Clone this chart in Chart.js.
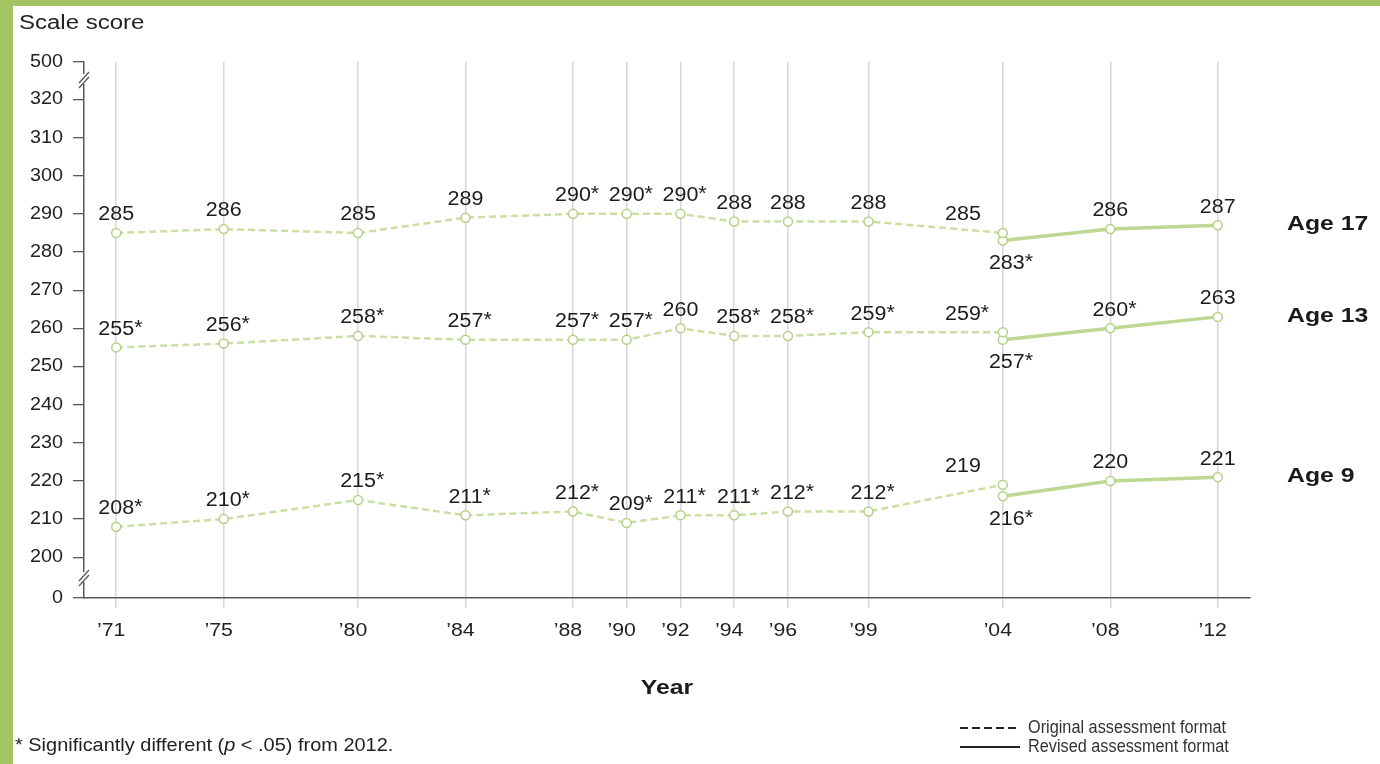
<!DOCTYPE html>
<html>
<head>
<meta charset="utf-8">
<title>Scale score trends</title>
<script src="https://cdn.jsdelivr.net/npm/chart.js@4.4.1/dist/chart.umd.min.js"></script>
<style>
  html, body { margin: 0; padding: 0; background: #fff; }
  #wrap { position: relative; width: 1380px; height: 764px; }
</style>
</head>
<body>
<div id="wrap"><canvas id="trend" width="1380" height="764"></canvas></div>
<script>
"use strict";

// Assessment years
var originalYears = [1971, 1975, 1980, 1984, 1988, 1990, 1992, 1994, 1996, 1999, 2004];
var revisedYears = [2004, 2008, 2012];
var tickYears = [1971, 1975, 1980, 1984, 1988, 1990, 1992, 1994, 1996, 1999, 2004, 2008, 2012];
var tickYearLabels = ["’71", "’75", "’80", "’84", "’88", "’90", "’92", "’94", "’96", "’99", "’04", "’08", "’12"];

// Average scale scores
var age17Original = [285, 286, 285, 289, 290, 290, 290, 288, 288, 288, 285];
var age17Revised = [283, 286, 287];
var age13Original = [255, 256, 258, 257, 257, 257, 260, 258, 258, 259, 259];
var age13Revised = [257, 260, 263];
var age9Original = [208, 210, 215, 211, 212, 209, 211, 211, 212, 212, 219];
var age9Revised = [216, 220, 221];

// Significantly different from 2012 (gets a *)
var age17OriginalSig = [false, false, false, false, true, true, true, false, false, false, false];
var age17RevisedSig = [true, false, false];
var age13OriginalSig = [true, true, true, true, true, true, false, true, true, true, true];
var age13RevisedSig = [true, true, false];
var age9OriginalSig = [true, true, true, true, true, true, true, true, true, true, false];
var age9RevisedSig = [true, false, false];

var ageNames = ["Age 17", "Age 13", "Age 9"];

// Y axis: 200-320 drawn to scale, 0 and 500 sit past the breaks
var scoreTicks = [200, 210, 220, 230, 240, 250, 260, 270, 280, 290, 300, 310, 320];
var axisFloorLabel = "0";
var axisCeilLabel = "500";

var Y_MIN = 189.4, Y_MAX = 329.8;
var FONT = '"Liberation Sans", Arial, sans-serif';
var DASH_GREEN = "#c9e0a2";
var SOLID_GREEN = "#bcd893";
var AXIS_GREY = "#595959";

function points(xs, ys) {
    return xs.map(function (x, i) { return { x: x, y: ys[i] }; });
}

function series(name, xs, ys, sig, revised) {
    return {
        label: name,
        data: points(xs, ys),
        sig: sig,
        revised: revised,
        borderColor: revised ? SOLID_GREEN : DASH_GREEN,
        borderWidth: revised ? 3.5 : 2.5,
        borderDash: revised ? [] : [7, 4],
        pointRadius: 4.5,
        pointBorderWidth: 1.5,
        pointBackgroundColor: "#fff",
        pointBorderColor: "#b3d188",
        tension: 0,
        fill: false
    };
}

var datasets = [
    series(ageNames[0], originalYears, age17Original, age17OriginalSig, false),
    series(ageNames[0], revisedYears, age17Revised, age17RevisedSig, true),
    series(ageNames[1], originalYears, age13Original, age13OriginalSig, false),
    series(ageNames[1], revisedYears, age13Revised, age13RevisedSig, true),
    series(ageNames[2], originalYears, age9Original, age9OriginalSig, false),
    series(ageNames[2], revisedYears, age9Revised, age9RevisedSig, true)
];

// Text with a horizontal stretch, returns drawn width
function drawText(ctx, str, x, y, opt) {
    ctx.save();
    ctx.font = (opt.style || "") + " " + (opt.weight || "normal") + " " + opt.size + "px " + FONT;
    ctx.fillStyle = opt.color || "#1c1c1c";
    ctx.textBaseline = "middle";
    ctx.textAlign = "left";
    var sx = opt.sx || 1;
    var w = ctx.measureText(str).width * sx;
    var left = x;
    if (opt.align === "center") left = x - w / 2;
    if (opt.align === "right") left = x - w;
    ctx.translate(left, y);
    ctx.scale(sx, 1);
    ctx.fillText(str, 0, 0);
    ctx.restore();
    return w;
}

function textWidth(ctx, str, opt) {
    ctx.save();
    ctx.font = (opt.weight || "normal") + " " + opt.size + "px " + FONT;
    var w = ctx.measureText(str).width * (opt.sx || 1);
    ctx.restore();
    return w;
}

function axisBreak(ctx, x, cy) {
    ctx.save();
    ctx.fillStyle = "#fff";
    ctx.fillRect(x - 3, cy - 5, 6, 10);
    ctx.strokeStyle = AXIS_GREY;
    ctx.lineWidth = 1.3;
    ctx.beginPath();
    ctx.moveTo(x - 5, cy + 4); ctx.lineTo(x + 5, cy - 7);
    ctx.moveTo(x - 5, cy + 9); ctx.lineTo(x + 5, cy - 2);
    ctx.stroke();
    ctx.restore();
}

var decorations = {
    id: "decorations",
    beforeDraw: function (chart) {
        var ctx = chart.ctx;
        ctx.save();
        ctx.fillStyle = "#fff";
        ctx.fillRect(0, 0, chart.width, chart.height);
        ctx.fillStyle = "#a4c464";
        ctx.fillRect(0, 0, chart.width, 6);
        ctx.fillRect(0, 0, 13, chart.height);
        ctx.restore();
    },
    afterDraw: function (chart) {
        var ctx = chart.ctx;
        var xs = chart.scales.x, ys = chart.scales.y;
        var area = chart.chartArea;

        // y tick labels
        ys.ticks.forEach(function (t) {
            var str = t.value === Y_MIN ? axisFloorLabel : t.value === Y_MAX ? axisCeilLabel : String(t.value);
            drawText(ctx, str, 63, ys.getPixelForValue(t.value), { size: 18, sx: 1.1, align: "right", color: "#222" });
        });

        // x tick labels
        tickYears.forEach(function (yr, i) {
            drawText(ctx, tickYearLabels[i], xs.getPixelForValue(yr) - 5, 631, { size: 19, sx: 1.12, align: "center", color: "#222" });
        });

        // axis breaks
        axisBreak(ctx, area.left, 79);
        axisBreak(ctx, area.left, 577);

        // value labels
        var labelOpt = { size: 19.5, sx: 1.1, color: "#1c1c1c" };
        chart.data.datasets.forEach(function (ds, di) {
            var meta = chart.getDatasetMeta(di);
            meta.data.forEach(function (pt, i) {
                var num = String(ds.data[i].y);
                var w = textWidth(ctx, num, labelOpt);
                var left, cy;
                if (ds.revised && i === 0) {
                    left = pt.x + 4 - w / 2;
                    cy = pt.y + 23;
                } else if (!ds.revised && i === meta.data.length - 1) {
                    left = pt.x - 22 - w;
                    cy = pt.y - 18;
                } else {
                    left = pt.x - w / 2;
                    cy = pt.y - 18;
                }
                drawText(ctx, num, left, cy, labelOpt);
                if (ds.sig[i]) {
                    drawText(ctx, "*", left + w, cy - 1, labelOpt);
                }
            });
        });

        // age labels next to the last revised point
        chart.data.datasets.forEach(function (ds, di) {
            if (!ds.revised) return;
            var meta = chart.getDatasetMeta(di);
            var last = meta.data[meta.data.length - 1];
            drawText(ctx, ds.label, 1287, last.y - 1, { size: 21, weight: "bold", sx: 1.18, color: "#1a1a1a" });
        });

        // titles
        drawText(ctx, "Scale score", 19, 23, { size: 20, sx: 1.2, color: "#222" });
        drawText(ctx, "Year", (area.left + area.right) / 2, 688, { size: 21, weight: "bold", sx: 1.18, align: "center", color: "#1a1a1a" });

        // footnote
        var fo = { size: 19, sx: 1.05, color: "#222" };
        var fx = 15, fy = 746;
        fx += drawText(ctx, "* Significantly different (", fx, fy, fo);
        fx += drawText(ctx, "p", fx, fy, { size: 19, sx: 1.05, color: "#222", style: "italic" });
        drawText(ctx, " < .05) from 2012.", fx, fy, fo);

        // format key
        ctx.save();
        ctx.strokeStyle = "#222";
        ctx.lineWidth = 2;
        ctx.setLineDash([8, 4]);
        ctx.beginPath(); ctx.moveTo(960, 728); ctx.lineTo(1020, 728); ctx.stroke();
        ctx.setLineDash([]);
        ctx.beginPath(); ctx.moveTo(960, 747); ctx.lineTo(1020, 747); ctx.stroke();
        ctx.restore();
        var ko = { size: 17.5, sx: 0.93, color: "#333" };
        drawText(ctx, "Original assessment format", 1028, 728, ko);
        drawText(ctx, "Revised assessment format", 1028, 747, ko);
    }
};

new Chart(document.getElementById("trend"), {
    type: "line",
    data: { datasets: datasets },
    options: {
        responsive: false,
        animation: false,
        devicePixelRatio: 1,
        layout: { padding: { left: 14, top: 62, right: 130, bottom: 0 } },
        plugins: { legend: { display: false }, tooltip: { enabled: false } },
        scales: {
            x: {
                type: "linear",
                min: 1969.8,
                max: 2013.2,
                afterBuildTicks: function (s) {
                    s.ticks = tickYears.map(function (v) { return { value: v }; });
                },
                afterFit: function (s) { s.height = 166.3; },
                grid: { color: "#d6d6d6", lineWidth: 1.5, drawTicks: true, tickLength: 10 },
                border: { display: true, color: AXIS_GREY, width: 1.5 },
                ticks: { display: false }
            },
            y: {
                type: "linear",
                min: Y_MIN,
                max: Y_MAX,
                afterBuildTicks: function (s) {
                    s.ticks = [Y_MIN].concat(scoreTicks, [Y_MAX]).map(function (v) { return { value: v }; });
                },
                afterFit: function (s) { s.width = 70; },
                grid: { drawOnChartArea: false, drawTicks: true, tickLength: 11, color: AXIS_GREY, lineWidth: 1.3 },
                border: { display: true, color: AXIS_GREY, width: 1.5 },
                ticks: { display: false }
            }
        }
    },
    plugins: [decorations]
});
</script>
</body>
</html>
